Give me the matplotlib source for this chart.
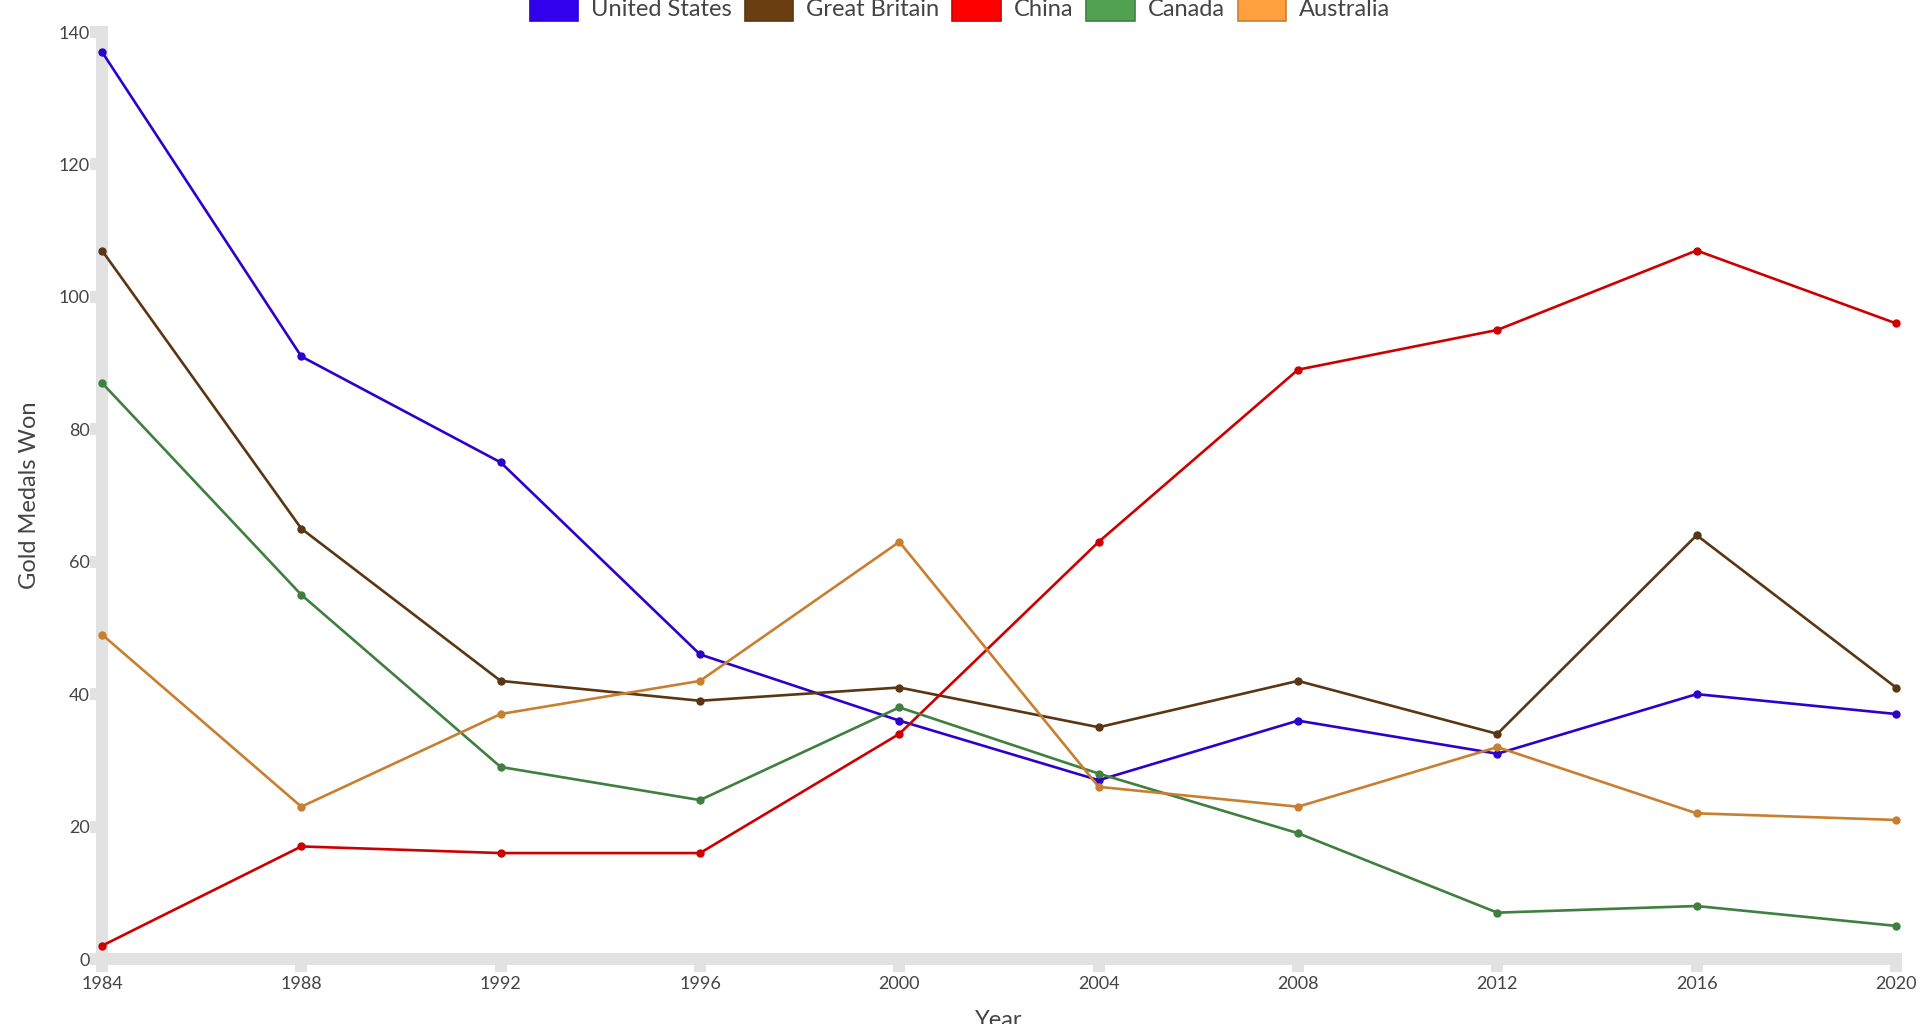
import matplotlib
matplotlib.use("Agg")
import matplotlib.pyplot as plt
from matplotlib.patches import Patch

years = [1984, 1988, 1992, 1996, 2000, 2004, 2008, 2012, 2016, 2020]
countries = ["United States", "Great Britain", "China", "Canada", "Australia"]
us = [137, 91, 75, 46, 36, 27, 36, 31, 40, 37]
gb = [107, 65, 42, 39, 41, 35, 42, 34, 64, 41]
china = [2, 17, 16, 16, 34, 63, 89, 95, 107, 96]
canada = [87, 55, 29, 24, 38, 28, 19, 7, 8, 5]
australia = [49, 23, 37, 42, 63, 26, 23, 32, 22, 21]
series = [us, gb, china, canada, australia]

line_colors = ["#2e00cc", "#5a3612", "#cc0000", "#3f7f3f", "#c87f30"]
patch_colors = ["#3300ee", "#6b3e12", "#ff0000", "#52a052", "#ffa040"]

plt.rcParams["font.family"] = ["Lato", "DejaVu Sans"]
TXT = "#444444"
GRID = "#e2e2e2"

fig = plt.figure(figsize=(19.2, 10.24), dpi=100)
ax = fig.add_axes([102 / 1920, 1 - 959 / 1024, (1896 - 102) / 1920, (959 - 32) / 1024])

for vals, c in zip(series, line_colors):
    ax.plot(years, vals, color=c, lw=1.9, marker="o", ms=5, mfc=c, mec=c,
            zorder=3, clip_on=False)

ax.set_xlim(1984, 2020)
ax.set_ylim(0, 140)
ax.set_xticks(years)
ax.set_yticks(range(0, 141, 20))

for s in ["top", "right"]:
    ax.spines[s].set_visible(False)
for s in ["left", "bottom"]:
    ax.spines[s].set_color(GRID)
    ax.spines[s].set_linewidth(8.6)
    ax.spines[s].set_capstyle("projecting")

ax.tick_params(axis="both", which="major", color=GRID, width=8.6, length=9.0,
               labelsize=13, labelcolor=TXT)
ax.tick_params(axis="y", pad=0)
ax.tick_params(axis="x", pad=3)

ax.set_ylabel("Gold Medals Won", fontsize=17, color=TXT, labelpad=13)
ax.set_xlabel("Year", fontsize=17, color=TXT, labelpad=13)

handles = [Patch(facecolor=pc, edgecolor=lc, linewidth=1.2, label=n)
           for pc, lc, n in zip(patch_colors, line_colors, countries)]
fig.legend(handles=handles, loc="center", bbox_to_anchor=(0.5, 1 - 8 / 1024),
           ncol=5, frameon=False, fontsize=17, labelcolor=TXT,
           handlelength=2.05, handleheight=1.35, handletextpad=0.55,
           columnspacing=0.55, borderaxespad=0, borderpad=0)

fig.savefig("out.png", dpi=100)
